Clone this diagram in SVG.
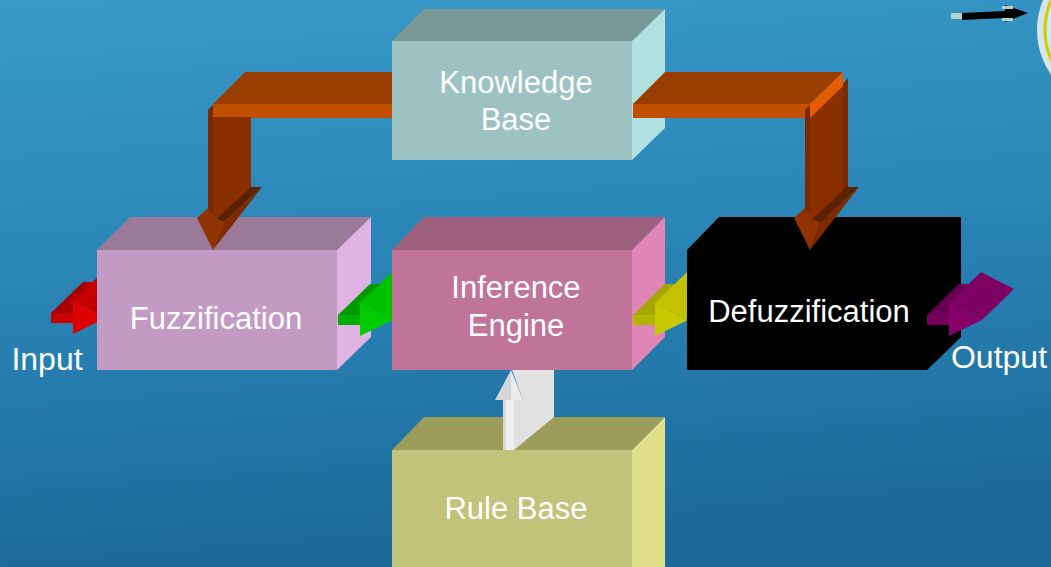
<svg xmlns="http://www.w3.org/2000/svg" width="1051" height="567" viewBox="0 0 1051 567">
<defs>
<linearGradient id="bg" x1="0" y1="0" x2="0.15" y2="1">
<stop offset="0" stop-color="#389ac9"/>
<stop offset="0.5" stop-color="#2a84b6"/>
<stop offset="1" stop-color="#1c6a9b"/>
</linearGradient>
<radialGradient id="disc" cx="0.5" cy="0.5" r="0.5">
<stop offset="0" stop-color="#f4ffff"/>
<stop offset="0.8" stop-color="#d0f4f4"/>
<stop offset="1" stop-color="#bfeeee"/>
</radialGradient>
<clipPath id="clipRed"><rect x="0" y="0" width="97" height="567"/></clipPath>
<clipPath id="clipGreen"><rect x="0" y="0" width="392" height="567"/></clipPath>
<clipPath id="clipYellow"><rect x="0" y="0" width="687" height="567"/></clipPath>
</defs>
<style>
.lbl{font-family:"Liberation Sans",Arial,sans-serif;font-size:31px;fill:#ffffff;text-anchor:middle}
.io{font-family:"Liberation Sans",Arial,sans-serif;font-size:32px;fill:#ffffff;text-anchor:middle}
</style>
<rect x="0" y="0" width="1051" height="567" fill="url(#bg)"/>

<g id="decoration">
<circle cx="1115" cy="30" r="78" fill="#d6e6e8"/>
<circle cx="1117" cy="30" r="72" fill="url(#disc)" stroke="#d8c800" stroke-width="3"/>
<rect x="951" y="13" width="12" height="6" fill="#b8d0cc"/>
<polygon points="962,13 1005,11 1005,5 1028,13 1005,22 1005,18 962,20" fill="#000000"/>
<rect x="1002" y="6" width="11" height="3" fill="#b8d0cc"/>
<rect x="1002" y="18" width="11" height="3" fill="#b8d0cc"/>
</g>

<g id="knowledge-base">
<polygon points="392,41 424,9 665,9 632,41" fill="#789896"/>
<polygon points="632,41 665,9 665,128 632,160" fill="#b0e0e0"/>
<rect x="392" y="41" width="240" height="119" fill="#9cc3c2"/>
<text class="lbl" x="516" y="93">Knowledge</text>
<text class="lbl" x="516" y="130">Base</text>
</g>

<g id="fuzzification">
<polygon points="97,250 130,217 371,217 337,250" fill="#9a7a98"/>
<polygon points="337,250 371,217 371,337 337,370" fill="#e0b4e2"/>
<rect x="97" y="250" width="240" height="120" fill="#c29ac4"/>
<text class="lbl" x="216" y="329">Fuzzification</text>
</g>

<g id="inference-engine">
<polygon points="392,250 424,217 665,217 632,250" fill="#9c5f7c"/>
<polygon points="632,250 665,217 665,337 632,370" fill="#e086b6"/>
<rect x="392" y="250" width="240" height="120" fill="#c07499"/>
<text class="lbl" x="516" y="298">Inference</text>
<text class="lbl" x="516" y="336">Engine</text>
</g>

<g id="defuzzification">
<polygon points="687,250 719,217 961,217 961,337 927,370 687,370" fill="#000000"/>
<text class="lbl" x="809" y="322">Defuzzification</text>
</g>

<g id="rule-base">
<polygon points="392,450 424,417 665,417 632,450" fill="#9c9c5b"/>
<polygon points="632,450 665,417 665,567 632,567" fill="#e0e08a"/>
<rect x="392" y="450" width="240" height="117" fill="#c2c37a"/>
<text class="lbl" x="516" y="519">Rule Base</text>
</g>

<g id="labels">
<text class="io" x="47" y="370">Input</text>
<text class="io" x="999" y="368">Output</text>
</g>

<g id="connectors">
<g id="kb-to-fuzz">
<polygon points="213,104 245,72 392,72 392,104" fill="#9a3d00"/>
<rect x="213" y="104" width="179" height="14" fill="#c24e00"/>
<polygon points="208,110 213,105 213,215 208,210" fill="#7a2900"/>
<polygon points="213,117 251,117 251,189 216,219 213,219" fill="#8a3000"/>
<polygon points="197,218 208,208 216,219 224,222 213,250" fill="#8f3300"/>
<polygon points="251,187 262,187 224,222 216,219" fill="#5e2100"/>
<polygon points="224,222 262,187 213,250" fill="#7e2b00"/>
</g>
<g id="kb-to-defuzz">
<polygon points="633,104 665,72 843,72 810,104" fill="#9a3d00"/>
<rect x="633" y="104" width="178" height="14" fill="#c24e00"/>
<polygon points="809,117 842,86 848,78 848,189 813,219 809,219" fill="#8a3000"/>
<polygon points="843,84 848,78 848,189 843,193" fill="#7a2900"/>
<polygon points="805,110 810,105 810,215 805,210" fill="#7a2900"/>
<polygon points="810,104 843,72 843,86 810,118" fill="#e55c00"/>
<polygon points="794,218 805,208 813,219 821,222 810,250" fill="#8f3300"/>
<polygon points="846,187 859,187 821,222 813,219" fill="#5e2100"/>
<polygon points="821,222 859,187 810,250" fill="#7e2b00"/>
</g>
<g id="input-arrow" clip-path="url(#clipRed)">
<polygon points="51,313 83,282 105,282 73,313" fill="#a80000"/>
<polygon points="73,301 106,318 138,287 105,270" fill="#c40000"/>
<rect x="51" y="313" width="22" height="10" fill="#c80000"/>
<polygon points="73,301 106,318 73,334" fill="#dc0000"/>
</g>
<g id="fuzz-to-inf" clip-path="url(#clipGreen)">
<polygon points="338,315 370,284 392,284 360,315" fill="#009a00"/>
<polygon points="360,303 393,320 425,289 392,272" fill="#00c000"/>
<rect x="338" y="315" width="22" height="10" fill="#00b000"/>
<polygon points="360,303 393,320 360,336" fill="#00cc00"/>
</g>
<g id="inf-to-defuzz" clip-path="url(#clipYellow)">
<polygon points="633,315 665,284 687,284 655,315" fill="#a6a600"/>
<polygon points="655,303 688,320 720,289 687,272" fill="#c2c200"/>
<rect x="633" y="315" width="22" height="10" fill="#b4b400"/>
<polygon points="655,303 688,320 655,336" fill="#c8c800"/>
</g>
<g id="output-arrow">
<polygon points="927,315 959,284 981,284 949,315" fill="#680050"/>
<polygon points="949,303 982,320 1014,289 981,272" fill="#7e0062"/>
<rect x="927" y="315" width="22" height="10" fill="#760058"/>
<polygon points="949,303 982,320 949,336" fill="#86006a"/>
</g>
<g id="rule-to-inf">
<polygon points="514,450 554,417 554,370 512,370 523,400 514,400" fill="#e2e2e2"/>
<rect x="503" y="400" width="11" height="50" fill="#f0f0f0"/>
<rect x="503" y="400" width="3" height="50" fill="#d8d8d8"/>
<polygon points="495,400 511,370 511,400" fill="#d6d6d6"/>
<polygon points="511,370 523,400 511,400" fill="#ececec"/>
</g>
</g>
</svg>
